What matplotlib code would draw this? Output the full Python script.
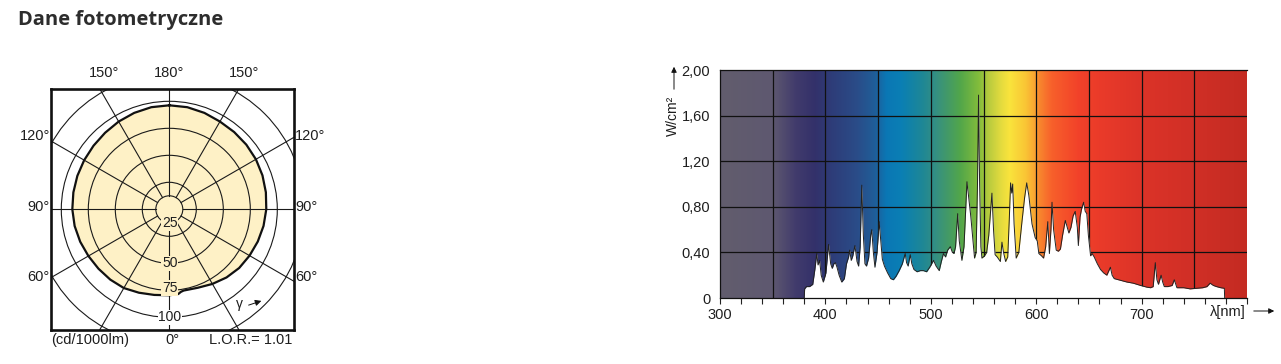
import numpy as np
import matplotlib
matplotlib.use("Agg")
import matplotlib.pyplot as plt
from matplotlib.colors import LinearSegmentedColormap
from matplotlib.patches import Circle

# ---------------- data ----------------
title = "Dane fotometryczne"

# polar luminous intensity (cd/1000lm), gamma measured from nadir, + = right side
gamma_deg = [-180, -170, -160, -150, -140, -130, -120, -110, -100, -90, -80, -70, -60, -50, -40,
             -30, -20, -10, 0, 6, 8, 10, 20, 30, 40, 50, 60, 70, 80, 90, 100, 110, 120, 130,
             140, 150, 160, 170, 180]
intensity = [96.3, 96.0, 95.0, 93.8, 92.5, 91.6, 91.0, 90.6, 90.2, 89.8, 89.0, 87.8, 86.5, 85.6, 85.0,
             84.2, 82.2, 80.5, 79.6, 78.9, 77.2, 76.4, 77.3, 79.8, 82.4, 84.5, 85.8, 87.2, 88.6, 89.8,
             90.8, 91.8, 92.6, 93.1, 93.4, 93.8, 95.0, 96.0, 96.3]
polar_circles = [12.5, 25, 50, 75, 100, 125]
polar_ring_labels = ["25", "50", "75", "100"]
polar_angle_labels = ["150°", "180°", "150°", "120°", "120°", "90°", "90°", "60°", "60°", "0°"]
lor_text = "L.O.R.= 1.01"
unit_text = "(cd/1000lm)"

# spectral power distribution
wavelength = [379.9, 380.3, 382, 385, 388, 390, 391.8, 393, 394.5, 396, 398, 400.5, 403, 405, 406.5,
              408, 409.5, 411, 413, 415.5, 418, 420, 422, 423, 424.5, 426, 428, 430, 431.5, 433,
              434.5, 436, 437.5, 439, 441, 443, 444, 445.5, 447, 449, 451, 452.5, 454, 456, 459,
              462, 464.5, 467, 470, 473, 475.7, 477, 478.5, 480.5, 482, 484, 487, 490, 493, 496,
              499, 502.6, 505, 508, 510, 512, 514, 516, 518.5, 520.5, 522, 523.5, 525.5, 527, 529.5,
              531.5, 534.3, 536, 538, 540, 541.5, 543, 544.3, 545.3, 546.3, 547.5, 548.5, 551, 553, 555,
              558, 559.5, 561, 563, 566, 567.5, 569, 571, 573, 574.5, 575.7, 576.8, 577.7, 579, 581,
              583.5, 586.5, 589, 591, 593, 596, 599, 601, 602.5, 605, 607, 609, 611, 612.5, 614,
              615, 616.5, 619, 621, 623, 625, 627.6, 629.5, 631, 633, 635, 637, 639, 640, 641.6,
              643, 645, 646.5, 648, 649.5, 651.6, 653, 655, 658, 661, 664, 667, 669, 670.4, 672,
              674, 678, 682, 686, 692, 699, 705, 708.5, 711, 713, 714.5, 716, 718.5, 720, 721.5,
              725, 729, 731, 733.5, 740, 746, 752, 758, 762, 765, 768, 771, 775, 778.5, 778.8]
power = [0.0, 0.08, 0.10, 0.10, 0.12, 0.25, 0.39, 0.29, 0.33, 0.20, 0.14, 0.22, 0.47, 0.30, 0.26,
         0.30, 0.31, 0.27, 0.20, 0.14, 0.17, 0.30, 0.36, 0.42, 0.33, 0.37, 0.46, 0.32, 0.28, 0.45,
         0.99, 0.55, 0.30, 0.28, 0.35, 0.55, 0.60, 0.40, 0.27, 0.40, 0.67, 0.50, 0.34, 0.28, 0.22,
         0.17, 0.16, 0.19, 0.24, 0.30, 0.39, 0.31, 0.28, 0.38, 0.30, 0.25, 0.23, 0.24, 0.24, 0.23,
         0.27, 0.33, 0.28, 0.24, 0.32, 0.39, 0.36, 0.42, 0.45, 0.40, 0.39, 0.45, 0.74, 0.50, 0.33,
         0.45, 1.02, 0.88, 0.71, 0.50, 0.35, 0.40, 1.00, 1.78, 1.00, 0.45, 0.35, 0.37, 0.40, 0.55,
         0.92, 0.60, 0.38, 0.36, 0.32, 0.49, 0.40, 0.32, 0.36, 0.70, 1.01, 0.92, 1.00, 0.65, 0.35,
         0.40, 0.67, 0.88, 1.01, 0.90, 0.65, 0.53, 0.50, 0.39, 0.37, 0.35, 0.45, 0.67, 0.39, 0.60,
         0.84, 0.60, 0.42, 0.41, 0.43, 0.55, 0.68, 0.62, 0.57, 0.62, 0.72, 0.76, 0.62, 0.46, 0.71,
         0.78, 0.84, 0.76, 0.74, 0.55, 0.37, 0.39, 0.36, 0.30, 0.25, 0.22, 0.20, 0.24, 0.27, 0.20,
         0.17, 0.16, 0.15, 0.14, 0.13, 0.11, 0.095, 0.09, 0.10, 0.31, 0.16, 0.12, 0.20, 0.14, 0.10,
         0.10, 0.11, 0.16, 0.09, 0.09, 0.08, 0.085, 0.09, 0.10, 0.13, 0.11, 0.10, 0.09, 0.085, 0.0]

x_tick_labels = ["300", "400", "500", "600", "700"]
y_tick_labels = ["0", "0,40", "0,80", "1,20", "1,60", "2,00"]
y_label = "W/cm²"
x_label = "λ[nm]"

# spectrum background gradient stops (nm, colour)
grad_nm = [300, 350, 372, 390, 405, 430, 447, 458, 472, 492, 505, 528, 546, 555, 568, 575,
           590, 598, 603, 615, 640, 660, 700, 750, 800]
grad_col = ['#625D6D', '#5E5870', '#413B6C', '#33316A', '#2E3C78', '#2A4C88', '#1F5E99', '#0A77B5',
            '#0A7FB4', '#1E8796', '#358F82', '#52A64A', '#84BD3B', '#B8CB3E', '#E8DD3E', '#FAE43C',
            '#F9C535', '#F9A832', '#F8872E', '#F7602B', '#F24229', '#EA3B2A', '#DC3328', '#D02F26', '#C42B22']

# ---------------- figure ----------------
W, H = 1281, 364
fig = plt.figure(figsize=(W / 100, H / 100), dpi=100)
fig.patch.set_facecolor('white')
plt.rcParams['font.family'] = ['Liberation Sans', 'DejaVu Sans']


def fpos(x, y):
    return x / W, 1 - y / H


def ax_rect(x0, y0, x1, y1):
    return [x0 / W, 1 - y1 / H, (x1 - x0) / W, (y1 - y0) / H]


txt = '#1e1e1e'
fig.text(*fpos(18, 20), title, fontsize=14.5, fontweight='bold', family=['Open Sans', 'DejaVu Sans'],
         color='#2d2d2d', ha='left', va='center')

# ---------------- polar diagram ----------------
cx, cy = 169.3, 209.3
bx0, by0, bx1, by1 = 51, 89.3, 294.3, 330
s = 1.08  # px per unit
axp = fig.add_axes(ax_rect(bx0, by0, bx1, by1))
axp.set_xlim((bx0 - cx) / s, (bx1 - cx) / s)
axp.set_ylim(-(by1 - cy) / s, (cy - by0) / s)
axp.set_aspect('auto')
axp.set_xticks([])
axp.set_yticks([])
for sp in axp.spines.values():
    sp.set_linewidth(1.9)
    sp.set_color('#111111')
    sp.set_zorder(10)

g = np.radians(np.array(gamma_deg))
r = np.array(intensity)
px_ = r * np.sin(g)
py_ = -r * np.cos(g)
fill_col = '#FEF1C6'
axp.fill(px_, py_, color=fill_col, zorder=1, lw=0)

for rc in polar_circles:
    axp.add_patch(Circle((0, 0), rc, fill=False, lw=0.8, ec='#1a1a1a', zorder=3))
for a in range(0, 360, 30):
    ar = np.radians(a)
    axp.plot([12.5 * np.sin(ar), 200 * np.sin(ar)], [-12.5 * np.cos(ar), -200 * np.cos(ar)],
             color='#1a1a1a', lw=0.8, zorder=3)
axp.plot(px_, py_, color='#111111', lw=1.6, zorder=4, solid_joinstyle='round')

ring_y = [-13.0, -50.0, -73.0, -100.0]
ring_bg = [fill_col, fill_col, fill_col, 'white']
for lab, yy, bg in zip(polar_ring_labels, ring_y, ring_bg):
    axp.text(0.5, yy, lab, fontsize=10, ha='center', va='center', color=txt, zorder=5,
             bbox=dict(boxstyle='square,pad=0.05', fc=bg, ec='none'))
axp.annotate('', xy=((264 - cx) / s, -(300 - cy) / s), xytext=((246 - cx) / s, -(306 - cy) / s),
             arrowprops=dict(arrowstyle='-|>', color='#111111', lw=0.7, mutation_scale=9), zorder=6)
axp.text((239 - cx) / s, -(304 - cy) / s, 'γ', fontsize=10, ha='center', va='center', color=txt, zorder=6)

fs = 10.5
fig.text(*fpos(104, 73), polar_angle_labels[0], fontsize=fs, ha='center', va='center', color=txt)
fig.text(*fpos(169, 73), polar_angle_labels[1], fontsize=fs, ha='center', va='center', color=txt)
fig.text(*fpos(244, 73), polar_angle_labels[2], fontsize=fs, ha='center', va='center', color=txt)
fig.text(*fpos(50, 136), polar_angle_labels[3], fontsize=fs, ha='right', va='center', color=txt)
fig.text(*fpos(295, 136), polar_angle_labels[4], fontsize=fs, ha='left', va='center', color=txt)
fig.text(*fpos(50, 207), polar_angle_labels[5], fontsize=fs, ha='right', va='center', color=txt)
fig.text(*fpos(295, 207), polar_angle_labels[6], fontsize=fs, ha='left', va='center', color=txt)
fig.text(*fpos(50, 277), polar_angle_labels[7], fontsize=fs, ha='right', va='center', color=txt)
fig.text(*fpos(295, 277), polar_angle_labels[8], fontsize=fs, ha='left', va='center', color=txt)
fig.text(*fpos(172, 340), polar_angle_labels[9], fontsize=fs, ha='center', va='center', color=txt)
fig.text(*fpos(51, 340), unit_text, fontsize=fs, ha='left', va='center', color=txt)
fig.text(*fpos(292, 340), lor_text, fontsize=fs, ha='right', va='center', color=txt)

# ---------------- spectrum ----------------
axs = fig.add_axes(ax_rect(720, 70, 1247, 298))
x0, x1 = 300, 800
axs.set_xlim(x0, x1)
axs.set_ylim(0, 2.0)
cmap = LinearSegmentedColormap.from_list(
    'spec', [((n - x0) / (x1 - x0), c) for n, c in zip(grad_nm, grad_col)], N=1024)
grad = np.linspace(0, 1, 1024)[None, :]
axs.imshow(grad, cmap=cmap, aspect='auto', extent=[x0, x1, 0, 2.0], zorder=0, interpolation='bilinear')

for v in range(350, 800, 50):
    axs.axvline(v, color='#111111', lw=0.9, zorder=1)
for h in [0.4, 0.8, 1.2, 1.6]:
    axs.axhline(h, color='#111111', lw=0.9, zorder=1)

axs.fill_between(wavelength, 0, power, color='white', lw=0, zorder=2)
axs.plot(wavelength, power, color='#222222', lw=0.7, zorder=3)

axs.set_xticks([300, 400, 500, 600, 700])
axs.set_xticklabels(x_tick_labels, fontsize=10.5, color=txt)
axs.set_xticks(list(range(300, 801, 20)), minor=True)
axs.tick_params(axis='x', which='both', direction='out', length=4, width=0.8, pad=3, colors='#222222')
axs.tick_params(axis='x', which='major', labelcolor=txt)
axs.set_yticks([0, 0.4, 0.8, 1.2, 1.6, 2.0])
axs.set_yticklabels(y_tick_labels, fontsize=10.5, color=txt)
axs.tick_params(axis='y', length=0, pad=7)
for k, sp in axs.spines.items():
    sp.set_color('#111111')
    sp.set_linewidth(0.9)
    sp.set_zorder(5)
axs.spines['right'].set_visible(False)

fig.text(*fpos(673, 116), y_label, fontsize=10, rotation=90, ha='center', va='center', color=txt)
fig.add_artist(matplotlib.patches.FancyArrowPatch(
    fpos(674, 92), fpos(674, 64), transform=fig.transFigure, arrowstyle='-|>',
    mutation_scale=8, lw=0.7, color='#111111'))
fig.text(*fpos(1228, 312), x_label, fontsize=10.5, ha='center', va='center', color=txt)
fig.add_artist(matplotlib.patches.FancyArrowPatch(
    fpos(1251, 311), fpos(1277, 311), transform=fig.transFigure, arrowstyle='-|>',
    mutation_scale=8, lw=0.7, color='#111111'))

fig.savefig('out.png', dpi=100)
